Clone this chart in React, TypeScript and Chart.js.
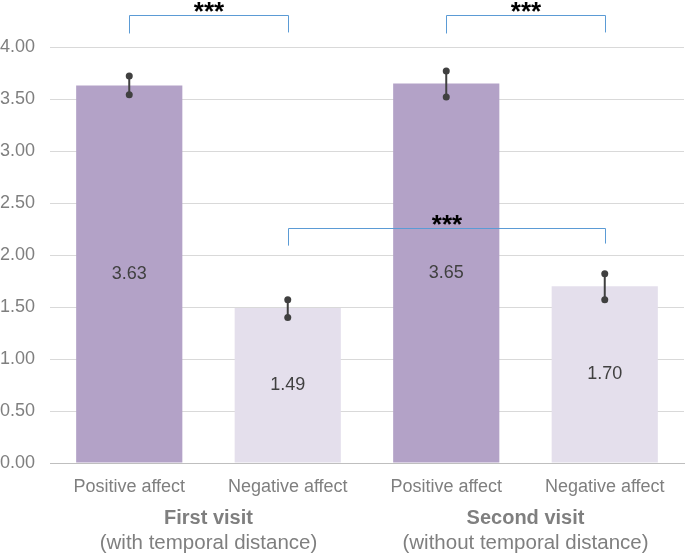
import React, { useEffect, useRef } from "react";
import { Chart, registerables } from "chart.js";

Chart.register(...registerables);

const categories = ["Positive affect", "Negative affect", "Positive affect", "Negative affect"];
const means = [3.63, 1.49, 3.65, 1.7];
const errLow = [3.54, 1.4, 3.52, 1.57];
const errHigh = [3.72, 1.57, 3.77, 1.82];
const barColors = ["#b3a2c7", "#e4dfec", "#b3a2c7", "#e4dfec"];
const groupTitles = ["First visit", "Second visit"];
const groupSubtitles = ["(with temporal distance)", "(without temporal distance)"];
const groupMembers = [
  [0, 1],
  [2, 3],
];
// brackets: from index, to index, bar level, left foot, right foot
const bracketFrom = [0, 2, 1];
const bracketTo = [1, 3, 3];
const bracketLevel = [4.31, 4.31, 2.255];
const bracketFootL = [4.13, 4.13, 2.09];
const bracketFootR = [4.14, 4.14, 2.11];
const bracketLabel = ["***", "***", "***"];

const FONT = "'Liberation Sans', Arial, sans-serif";

const overlayPlugin = {
  id: "overlay",
  afterDatasetsDraw(chart: any) {
    const ctx = chart.ctx;
    const xs = chart.scales.x;
    const ys = chart.scales.y;
    const meta = chart.getDatasetMeta(0);
    ctx.save();
    // value labels
    ctx.fillStyle = "#404040";
    ctx.font = `18px ${FONT}`;
    ctx.textAlign = "center";
    ctx.textBaseline = "middle";
    meta.data.forEach((bar: any, i: number) => {
      const cy = (bar.y + bar.base) / 2;
      ctx.fillText(means[i].toFixed(2), bar.x, cy);
    });
    // error bars
    ctx.strokeStyle = "#404040";
    ctx.fillStyle = "#404040";
    ctx.lineWidth = 2;
    meta.data.forEach((bar: any, i: number) => {
      const y1 = ys.getPixelForValue(errLow[i]);
      const y2 = ys.getPixelForValue(errHigh[i]);
      ctx.beginPath();
      ctx.moveTo(bar.x, y1);
      ctx.lineTo(bar.x, y2);
      ctx.stroke();
      [y1, y2].forEach((yy) => {
        ctx.beginPath();
        ctx.arc(bar.x, yy, 3.5, 0, Math.PI * 2);
        ctx.fill();
      });
    });
    // brackets
    ctx.strokeStyle = "#5b9bd5";
    ctx.lineWidth = 1;
    for (let k = 0; k < bracketFrom.length; k++) {
      const xl = Math.round(xs.getPixelForValue(bracketFrom[k])) + 0.5;
      const xr = Math.round(xs.getPixelForValue(bracketTo[k])) + 0.5;
      const yl = Math.round(ys.getPixelForValue(bracketLevel[k])) + 0.5;
      const yfl = ys.getPixelForValue(bracketFootL[k]);
      const yfr = ys.getPixelForValue(bracketFootR[k]);
      ctx.beginPath();
      ctx.moveTo(xl, yfl);
      ctx.lineTo(xl, yl);
      ctx.lineTo(xr, yl);
      ctx.lineTo(xr, yfr);
      ctx.stroke();
      ctx.fillStyle = "#000000";
      ctx.font = `bold 26px ${FONT}`;
      ctx.textAlign = "center";
      ctx.textBaseline = "alphabetic";
      ctx.fillText(bracketLabel[k], (xl + xr) / 2, yl + 4);
    }
    // group labels
    ctx.fillStyle = "#7f7f7f";
    ctx.textAlign = "center";
    ctx.textBaseline = "middle";
    const bottom = chart.chartArea.bottom;
    groupMembers.forEach((members, g) => {
      const cx =
        members.reduce((s, m) => s + xs.getPixelForValue(m), 0) / members.length;
      ctx.font = `bold 20px ${FONT}`;
      ctx.fillText(groupTitles[g], cx, bottom + 55);
      ctx.font = `20.5px ${FONT}`;
      ctx.fillText(groupSubtitles[g], cx, bottom + 80);
    });
    ctx.restore();
  },
};

export default function App() {
  const ref = useRef<HTMLCanvasElement>(null);
  useEffect(() => {
    if (!ref.current) return;
    const chart = new Chart(ref.current, {
      type: "bar",
      data: {
        labels: categories,
        datasets: [
          {
            data: means,
            backgroundColor: barColors,
            borderWidth: 0,
            barPercentage: 0.67,
            categoryPercentage: 1,
          },
        ],
      },
      options: {
        animation: false,
        responsive: false,
        layout: { padding: { top: 47, right: 1, left: 0, bottom: 0 } },
        plugins: { legend: { display: false }, tooltip: { enabled: false } },
        scales: {
          x: {
            grid: { display: false, drawTicks: false },
            border: { display: true, color: "#bfbfbf", width: 1 },
            ticks: {
              color: "#7f7f7f",
              font: { family: FONT, size: 18 },
              padding: 13,
              maxRotation: 0,
            },
            afterFit: (s: any) => {
              s.height = 91;
            },
          },
          y: {
            min: 0,
            max: 4,
            grid: {
              color: (c: any) => (c.tick && c.tick.value === 0 ? "#bfbfbf" : "#d9d9d9"),
              drawTicks: false,
            },
            border: { display: false },
            ticks: {
              stepSize: 0.5,
              color: "#7f7f7f",
              font: { family: FONT, size: 18 },
              padding: 15,
              callback: (v: any) => Number(v).toFixed(2),
            },
            afterFit: (s: any) => {
              s.width = 50;
            },
          },
        },
      },
      plugins: [overlayPlugin],
    });
    return () => chart.destroy();
  }, []);
  return (
    <div style={{ position: "absolute", left: 0, top: 0, width: 685, height: 554, background: "#fff" }}>
      <canvas ref={ref} width={685} height={554} />
    </div>
  );
}
